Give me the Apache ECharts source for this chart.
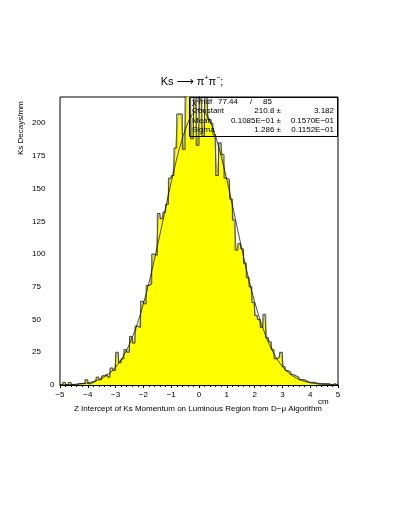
<!DOCTYPE html>
<html>
<head>
<meta charset="utf-8">
<script src="https://cdn.jsdelivr.net/npm/echarts@6/dist/echarts.min.js"></script>
<style>
  html, body { margin: 0; padding: 0; background: #fff; }
  #main { width: 398px; height: 515px; }
</style>
</head>
<body>
<div id="main"></div>
<script>
// histogram: 100 bins of 0.1 cm from -5 to 5
var binStart = -5;
var binWidth = 0.1;
var counts = [
    0, 2, 0, 2, 0, 0, 1, 1, 1, 4,
    1, 2, 3, 6, 4, 7, 8, 6, 13, 11,
    25, 17, 20, 27, 25, 37, 32, 45, 44, 64,
    62, 76, 77, 100, 99, 131, 127, 132, 138, 158,
    160, 181, 207, 207, 180, 222, 225, 188, 224, 183,
    226, 190, 222, 203, 200, 191, 160, 185, 176, 158,
    157, 142, 126, 103, 108, 104, 93, 82, 75, 63,
    53, 50, 44, 54, 36, 33, 27, 20, 21, 25,
    14, 11, 10, 8, 7, 6, 4, 4, 3, 2,
    2, 2, 1, 1, 1, 1, 1, 0, 1, 0
];

// gaussian fit curve
var fitX = [-5, -4.75, -4.5, -4.25, -4, -3.75, -3.5, -3.25, -3, -2.75,
    -2.5, -2.25, -2, -1.75, -1.5, -1.25, -1, -0.75, -0.5, -0.25,
    0, 0.25, 0.5, 0.75, 1, 1.25, 1.5, 1.75, 2, 2.25,
    2.5, 2.75, 3, 3.25, 3.5, 3.75, 4, 4.25, 4.5, 4.75, 5];
var fitY = [0.1, 0.2, 0.5, 0.9, 1.6, 2.9, 5.1, 8.5, 13.6, 21.0,
    31.3, 44.9, 62.1, 82.5, 105.7, 130.3, 154.8, 176.9, 194.8, 206.5,
    210.8, 207.2, 196.1, 178.7, 156.8, 132.7, 107.8, 84.4, 63.7, 46.3,
    32.4, 21.8, 14.1, 8.8, 5.3, 3.1, 1.7, 0.9, 0.5, 0.2, 0.1];

var statNames = ['Constant', 'Mean', 'Sigma'];
var statValues = ['210.8 \u00b1', '0.1085E\u221201 \u00b1', '1.286 \u00b1'];
var statErrors = ['3.182', '0.1570E\u221201', '0.1152E\u221201'];

var myChart = echarts.init(document.getElementById('main'));

var centers = counts.map(function (c, i) { return [binStart + binWidth * (i + 0.5), c]; });
var steps = [[binStart, counts[0]]].concat(centers, [[binStart + binWidth * counts.length, counts[counts.length - 1]]]);
var fit = fitX.map(function (x, i) { return [x, fitY[i]]; });

var font = 'Liberation Sans';
var graphic = [
    {type: 'text', x: 192, y: 75, style: {
        text: 'Ks {a|\u27f6} {g|\u03c0}{s|+}{g|\u03c0}{s|\u2212};', font: '11px ' + font, fill: '#000', align: 'center',
        rich: {
            a: {fontSize: 12, fontFamily: 'DejaVu Sans'},
            g: {fontSize: 11, fontFamily: font},
            s: {fontSize: 7, fontFamily: font, verticalAlign: 'top', padding: [0, 0, 6, 0]}
        }
    }},
    {type: 'text', x: 17, y: 155, rotation: Math.PI / 2, style: {
        text: 'Ks Decays/mm', font: '8px ' + font, fill: '#000'
    }},
    {type: 'text', x: 318, y: 398, style: {text: 'cm', font: '8px ' + font, fill: '#000'}},
    {type: 'text', x: 198, y: 405, style: {
        text: 'Z Intercept of Ks Momentum on Luminous Region from D\u2212\u03bc Algorithm',
        font: '8px ' + font, fill: '#000', align: 'center'
    }},
    {type: 'rect', shape: {x: 189.5, y: 97.5, width: 148, height: 39}, style: {fill: 'none', stroke: '#000', lineWidth: 1}, z: 100},
    {type: 'text', x: 192, y: 98, z: 100, style: {text: '\u03c7\u00b2/ndf', font: '8px ' + font, fill: '#000'}},
    {type: 'text', x: 218, y: 98, z: 100, style: {text: '77.44', font: '8px ' + font, fill: '#000'}},
    {type: 'text', x: 250, y: 98, z: 100, style: {text: '/', font: '8px ' + font, fill: '#000'}},
    {type: 'text', x: 263, y: 98, z: 100, style: {text: '85', font: '8px ' + font, fill: '#000'}}
];
statNames.forEach(function (n, i) {
    var y = 107 + i * 9.5;
    graphic.push({type: 'text', x: 192, y: y, z: 100, style: {text: n, font: '8px ' + font, fill: '#000'}});
    graphic.push({type: 'text', x: 281, y: y, z: 100, style: {text: statValues[i], font: '8px ' + font, fill: '#000', align: 'right'}});
    graphic.push({type: 'text', x: 334, y: y, z: 100, style: {text: statErrors[i], font: '8px ' + font, fill: '#000', align: 'right'}});
});

var option = {
    backgroundColor: '#fff',
    animation: false,
    textStyle: {fontFamily: font},
    grid: {left: 60, top: 97, width: 278, height: 288, show: true, borderColor: '#000', borderWidth: 1},
    xAxis: {
        type: 'value', min: -5, max: 5, interval: 1,
        axisLine: {onZero: false, lineStyle: {color: '#000', width: 1}},
        axisTick: {show: true, inside: false, length: 3, lineStyle: {color: '#000'}},
        minorTick: {show: true, splitNumber: 5, length: 2, lineStyle: {color: '#000'}},
        splitLine: {show: false},
        axisLabel: {color: '#000', fontSize: 8, margin: 6, formatter: function (v) { return String(v).replace('-', '\u2212'); }}
    },
    yAxis: {
        type: 'value', min: 0, max: 220, interval: 25,
        axisLine: {show: true, lineStyle: {color: '#000', width: 1}},
        axisTick: {show: true, inside: true, length: 4, lineStyle: {color: '#000'}},
        minorTick: {show: true, splitNumber: 5, length: 2, lineStyle: {color: '#000'}},
        splitLine: {show: false},
        axisLabel: {
            color: '#000', fontSize: 8, margin: 28, align: 'left', showMaxLabel: false,
            formatter: function (v) { return v === 0 ? '{z|0}' : String(v); },
            rich: {z: {fontSize: 8, padding: [0, 0, 0, 18]}}
        }
    },
    series: [
        {
            name: 'fill', type: 'line', data: centers, symbol: 'none',
            lineStyle: {color: '#888', width: 0.7},
            areaStyle: {color: '#ffff00', opacity: 1}
        },
        {
            name: 'hist', type: 'line', data: steps, step: 'middle', symbol: 'none',
            lineStyle: {color: '#222', width: 0.8}
        },
        {
            name: 'fit', type: 'line', data: fit, symbol: 'none', smooth: 0.3,
            lineStyle: {color: '#000', width: 0.7}
        }
    ],
    graphic: graphic
};

myChart.setOption(option);
</script>
</body>
</html>
